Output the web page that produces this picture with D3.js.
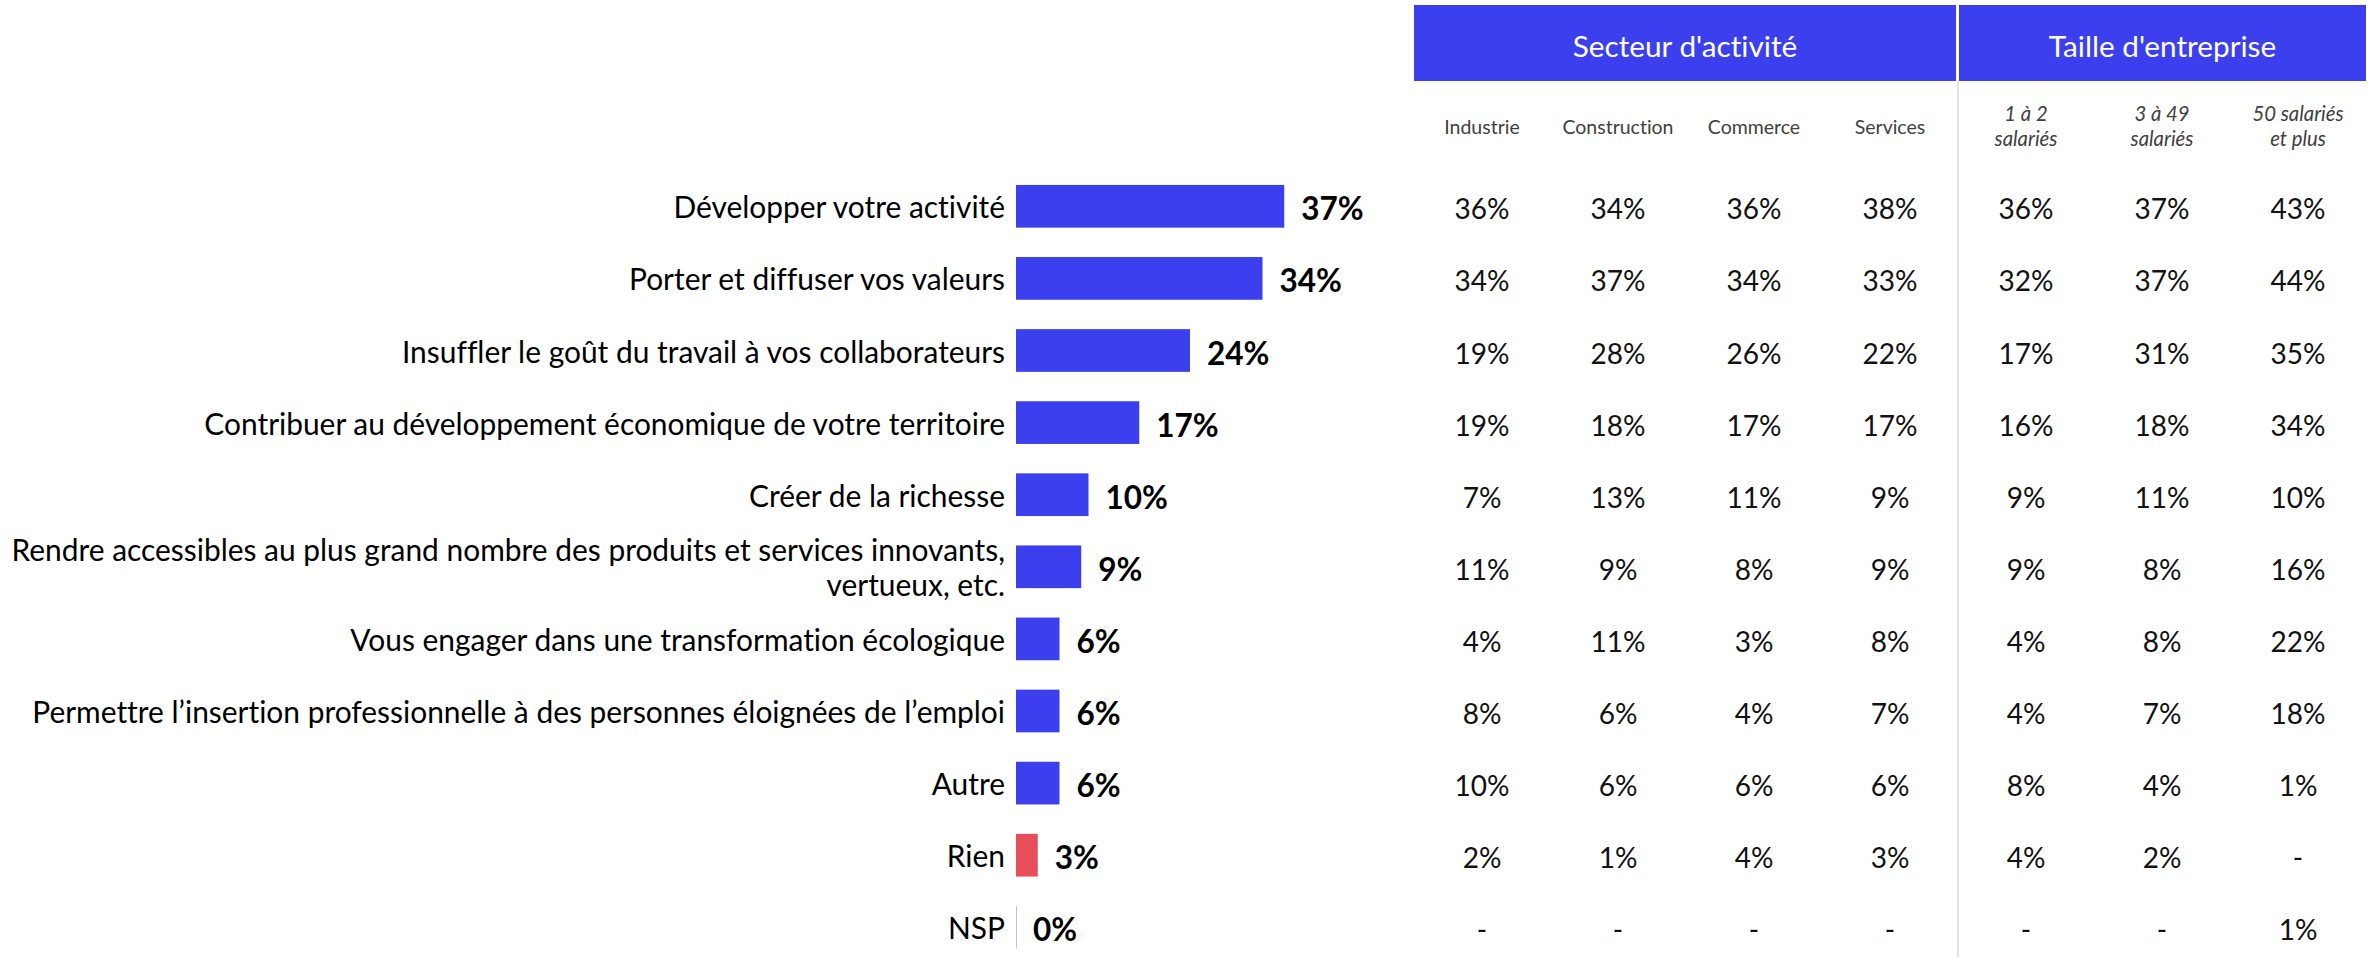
<!DOCTYPE html>
<html>
<head>
<meta charset="utf-8">
<script src="https://cdn.jsdelivr.net/npm/d3@7"></script>
<style>
  html, body { margin: 0; padding: 0; background: #ffffff; }
  svg { display: block; }
  svg text { font-variant-ligatures: none; font-feature-settings: "liga" 0, "clig" 0, "dlig" 0; }
</style>
</head>
<body>
<svg id="chart" width="2376" height="957"></svg>
<script>
// ---------------- DATA ----------------
const categories = [
  "Développer votre activité",
  "Porter et diffuser vos valeurs",
  "Insuffler le goût du travail à vos collaborateurs",
  "Contribuer au développement économique de votre territoire",
  "Créer de la richesse",
  "Rendre accessibles au plus grand nombre des produits et services innovants, vertueux, etc.",
  "Vous engager dans une transformation écologique",
  "Permettre l’insertion professionnelle à des personnes éloignées de l’emploi",
  "Autre",
  "Rien",
  "NSP"
];
const totals = [37, 34, 24, 17, 10, 9, 6, 6, 6, 3, 0];

const groupLabels = ["Secteur d'activité", "Taille d'entreprise"];
const sectorColumns = ["Industrie", "Construction", "Commerce", "Services"];
const sizeColumns = [["1 à 2", "salariés"], ["3 à 49", "salariés"], ["50 salariés", "et plus"]];

const industrie    = [36, 34, 19, 19, 7, 11, 4, 8, 10, 2, null];
const construction = [34, 37, 28, 18, 13, 9, 11, 6, 6, 1, null];
const commerce     = [36, 34, 26, 17, 11, 8, 3, 4, 6, 4, null];
const services     = [38, 33, 22, 17, 9, 9, 8, 7, 6, 3, null];
const taille1a2    = [36, 32, 17, 16, 9, 9, 4, 4, 8, 4, null];
const taille3a49   = [37, 37, 31, 18, 11, 8, 8, 7, 4, 2, null];
const taille50plus = [43, 44, 35, 34, 10, 16, 22, 18, 1, null, 1];

const tableSeries = [industrie, construction, commerce, services, taille1a2, taille3a49, taille50plus];

// ---------------- STYLE ----------------
const BLUE = "#3C3FEE";
const RED = "#E64E5A";
const FONT = "Lato, Carlito, 'Open Sans', sans-serif";

const svg = d3.select("#chart");

// helper: fit a font size so that the given strings reach given widths
function fitSize(strings, targets, nominal, weight, style) {
  const t = svg.append("text")
    .style("font-family", FONT)
    .style("font-size", nominal + "px")
    .style("font-weight", weight || "normal")
    .style("font-style", style || "normal");
  let sw = 0, st = 0;
  strings.forEach((s, i) => { t.text(s); sw += t.node().getComputedTextLength(); st += targets[i]; });
  t.remove();
  return nominal * st / sw;
}

// ---------------- SCALES ----------------
const y = d3.scalePoint().domain(categories).range([206.3, 927.3]);
const barH = 42.7;
const x = d3.scaleLinear().domain([0, 100]).range([1016, 1741]);

const colKeys = d3.range(tableSeries.length);
const cx = d3.scalePoint().domain(colKeys).range([1482, 2298]);
const colStep = cx.step();

// ---------------- FONT SIZES ----------------
const labelSize = fitSize(
  ["Contribuer au développement économique de votre territoire",
   "Permettre l’insertion professionnelle à des personnes éloignées de l’emploi",
   "Vous engager dans une transformation écologique"],
  [805, 979, 646], 28);
const valueSize = fitSize(["37%", "24%", "17%"], [63, 62.7, 61.7], 32, "bold");
const cellSize = fitSize(["36%34%36%38%36%37%43%"], [385], 30);
const headSize = fitSize(["Secteur d'activité", "Taille d'entreprise"], [223, 229], 30);
const subSize = fitSize(["Industrie", "Construction", "Commerce", "Services"], [76.5, 109, 94, 70], 20);
const subItSize = fitSize(["50 salariés", "salariés"], [90, 64], 20, "normal", "italic");

// ---------------- HEADER ----------------
const bands = [
  { label: groupLabels[0], x0: cx(0) - colStep / 2, x1: cx(3) + colStep / 2 - 2 },
  { label: groupLabels[1], x0: cx(4) - colStep / 2 + 1, x1: cx(6) + colStep / 2 }
];
svg.selectAll("rect.band").data(bands).join("rect")
  .attr("class", "band")
  .attr("x", d => d.x0).attr("y", 5)
  .attr("width", d => d.x1 - d.x0).attr("height", 76)
  .attr("fill", BLUE);
svg.selectAll("text.band").data(bands).join("text")
  .attr("class", "band")
  .attr("x", d => (d.x0 + d.x1) / 2).attr("y", 45)
  .attr("text-anchor", "middle").attr("dominant-baseline", "central")
  .style("font-family", FONT).style("font-size", headSize + "px")
  .attr("fill", "#ffffff")
  .text(d => d.label);

// separator between groups
svg.append("line")
  .attr("x1", cx(3) + colStep / 2).attr("x2", cx(3) + colStep / 2)
  .attr("y1", 81).attr("y2", 957)
  .attr("stroke", "#E2E3EA").attr("stroke-width", 2);

// sub headers
svg.selectAll("text.sub").data(sectorColumns).join("text")
  .attr("class", "sub")
  .attr("x", (d, i) => cx(i)).attr("y", 134)
  .attr("text-anchor", "middle")
  .style("font-family", FONT).style("font-size", subSize + "px")
  .attr("fill", "#404040")
  .text(d => d);
const subIt = svg.selectAll("text.subit").data(sizeColumns).join("text")
  .attr("class", "subit")
  .attr("x", (d, i) => cx(i + 4)).attr("y", 121)
  .attr("text-anchor", "middle")
  .style("font-family", FONT).style("font-size", subItSize + "px")
  .style("font-style", "italic")
  .attr("fill", "#404040");
subIt.selectAll("tspan").data(d => d).join("tspan")
  .attr("x", function () { return d3.select(this.parentNode).attr("x"); })
  .attr("dy", (d, i) => i === 0 ? 0 : 25)
  .text(d => d);

// ---------------- BAR LABELS ----------------
const maxLabelW = 1010;
const labels = svg.selectAll("text.cat").data(categories).join("text")
  .attr("class", "cat")
  .attr("text-anchor", "end")
  .style("font-family", FONT).style("font-size", labelSize + "px")
  .attr("fill", "#000000");
labels.each(function (d) {
  const t = d3.select(this);
  const words = d.split(" ");
  const lines = [];
  let cur = [];
  const probe = t.append("tspan");
  words.forEach(w => {
    const trial = cur.concat([w]).join(" ");
    probe.text(trial);
    if (probe.node().getComputedTextLength() > maxLabelW && cur.length) {
      lines.push(cur.join(" "));
      cur = [w];
    } else cur.push(w);
  });
  lines.push(cur.join(" "));
  probe.remove();
  const lh = 35;
  const yc = y(d);
  t.selectAll("tspan").data(lines).join("tspan")
    .attr("x", 1005)
    .attr("y", (l, i) => yc - (lines.length - 1) * lh / 2 + i * lh)
    .attr("dominant-baseline", "central")
    .text(l => l);
});

// ---------------- BARS ----------------
const barData = categories.map((c, i) => ({ c, v: totals[i] }));
svg.selectAll("rect.bar").data(barData).join("rect")
  .attr("class", "bar")
  .attr("x", x(0))
  .attr("y", d => y(d.c) - barH / 2)
  .attr("width", d => x(d.v) - x(0))
  .attr("height", barH)
  .attr("fill", d => d.c === "Rien" ? RED : BLUE);
svg.selectAll("line.zero").data(barData.filter(d => d.v === 0)).join("line")
  .attr("class", "zero")
  .attr("x1", x(0) + 0.5).attr("x2", x(0) + 0.5)
  .attr("y1", d => y(d.c) - barH / 2).attr("y2", d => y(d.c) + barH / 2)
  .attr("stroke", "#C4C4C4").attr("stroke-width", 1);

svg.selectAll("text.val").data(barData).join("text")
  .attr("class", "val")
  .attr("x", d => x(d.v) + 17)
  .attr("y", d => y(d.c) + 2)
  .attr("dominant-baseline", "central")
  .style("font-family", FONT).style("font-size", valueSize + "px")
  .style("font-weight", "bold")
  .attr("fill", "#000000")
  .text(d => d.v + "%");

// ---------------- TABLE ----------------
const cells = [];
tableSeries.forEach((s, j) => s.forEach((v, i) => cells.push({ j, c: categories[i], v })));
svg.selectAll("text.cell").data(cells).join("text")
  .attr("class", "cell")
  .attr("x", d => cx(d.j))
  .attr("y", d => y(d.c) + 2)
  .attr("text-anchor", "middle").attr("dominant-baseline", "central")
  .style("font-family", FONT).style("font-size", cellSize + "px")
  .attr("fill", "#111111")
  .text(d => d.v == null ? "-" : d.v + "%");
</script>
</body>
</html>
